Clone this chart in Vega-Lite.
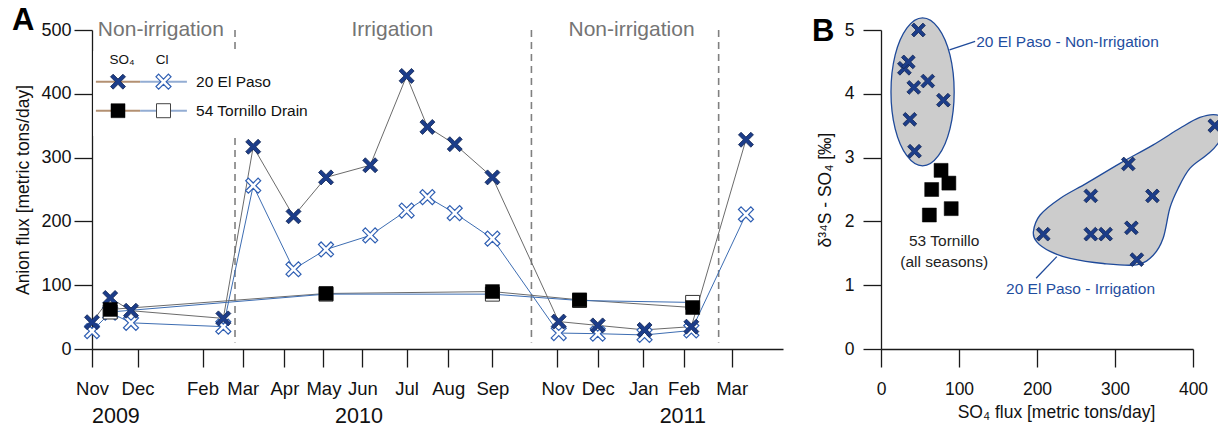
{
  "$schema": "https://vega.github.io/schema/vega-lite/v6.json",
  "background": "white",
  "padding": {"left": 12, "top": 5, "right": 0, "bottom": 0},
  "bounds": "flush",
  "spacing": 98,
  "config": {
    "font": "Liberation Sans",
    "view": {"stroke": null},
    "title": {"font": "Liberation Sans", "color": "#000000"},
    "axis": {
      "grid": false,
      "labelFont": "Liberation Sans",
      "titleFont": "Liberation Sans",
      "titleFontWeight": "normal",
      "domainColor": "#1a1a1a",
      "tickColor": "#1a1a1a",
      "labelColor": "#111111",
      "titleColor": "#111111",
      "domainWidth": 1.3,
      "tickWidth": 1.3,
      "labelOverlap": false,
      "labelFlush": false,
      "labelBound": false
    }
  },
  "datasets": {
    "flux": [
      {"site": "20 El Paso", "ion": "SO4", "date": "2009-11-11", "flux": 42},
      {"site": "20 El Paso", "ion": "SO4", "date": "2009-11-25", "flux": 80},
      {"site": "20 El Paso", "ion": "SO4", "date": "2009-12-11", "flux": 60},
      {"site": "20 El Paso", "ion": "SO4", "date": "2010-02-20", "flux": 48},
      {"site": "20 El Paso", "ion": "SO4", "date": "2010-03-15", "flux": 317},
      {"site": "20 El Paso", "ion": "SO4", "date": "2010-04-15", "flux": 208},
      {"site": "20 El Paso", "ion": "SO4", "date": "2010-05-10", "flux": 269},
      {"site": "20 El Paso", "ion": "SO4", "date": "2010-06-13", "flux": 288},
      {"site": "20 El Paso", "ion": "SO4", "date": "2010-07-11", "flux": 428},
      {"site": "20 El Paso", "ion": "SO4", "date": "2010-07-27", "flux": 348},
      {"site": "20 El Paso", "ion": "SO4", "date": "2010-08-17", "flux": 321},
      {"site": "20 El Paso", "ion": "SO4", "date": "2010-09-15", "flux": 269},
      {"site": "20 El Paso", "ion": "SO4", "date": "2010-11-05", "flux": 43},
      {"site": "20 El Paso", "ion": "SO4", "date": "2010-12-05", "flux": 37},
      {"site": "20 El Paso", "ion": "SO4", "date": "2011-01-10", "flux": 30},
      {"site": "20 El Paso", "ion": "SO4", "date": "2011-02-15", "flux": 35},
      {"site": "20 El Paso", "ion": "SO4", "date": "2011-03-29", "flux": 328},
      {"site": "20 El Paso", "ion": "Cl", "date": "2009-11-11", "flux": 28},
      {"site": "20 El Paso", "ion": "Cl", "date": "2009-11-25", "flux": 57},
      {"site": "20 El Paso", "ion": "Cl", "date": "2009-12-11", "flux": 41},
      {"site": "20 El Paso", "ion": "Cl", "date": "2010-02-20", "flux": 35},
      {"site": "20 El Paso", "ion": "Cl", "date": "2010-03-15", "flux": 256},
      {"site": "20 El Paso", "ion": "Cl", "date": "2010-04-15", "flux": 125},
      {"site": "20 El Paso", "ion": "Cl", "date": "2010-05-10", "flux": 156},
      {"site": "20 El Paso", "ion": "Cl", "date": "2010-06-13", "flux": 178},
      {"site": "20 El Paso", "ion": "Cl", "date": "2010-07-11", "flux": 217},
      {"site": "20 El Paso", "ion": "Cl", "date": "2010-07-27", "flux": 238},
      {"site": "20 El Paso", "ion": "Cl", "date": "2010-08-17", "flux": 213},
      {"site": "20 El Paso", "ion": "Cl", "date": "2010-09-15", "flux": 173},
      {"site": "20 El Paso", "ion": "Cl", "date": "2010-11-05", "flux": 25},
      {"site": "20 El Paso", "ion": "Cl", "date": "2010-12-05", "flux": 24},
      {"site": "20 El Paso", "ion": "Cl", "date": "2011-01-10", "flux": 22},
      {"site": "20 El Paso", "ion": "Cl", "date": "2011-02-15", "flux": 29},
      {"site": "20 El Paso", "ion": "Cl", "date": "2011-03-29", "flux": 211},
      {"site": "54 Tornillo Drain", "ion": "SO4", "date": "2009-11-25", "flux": 62},
      {"site": "54 Tornillo Drain", "ion": "SO4", "date": "2010-05-10", "flux": 87},
      {"site": "54 Tornillo Drain", "ion": "SO4", "date": "2010-09-15", "flux": 90},
      {"site": "54 Tornillo Drain", "ion": "SO4", "date": "2010-11-21", "flux": 77},
      {"site": "54 Tornillo Drain", "ion": "SO4", "date": "2011-02-16", "flux": 65},
      {"site": "54 Tornillo Drain", "ion": "Cl", "date": "2009-11-25", "flux": 58},
      {"site": "54 Tornillo Drain", "ion": "Cl", "date": "2010-05-10", "flux": 86},
      {"site": "54 Tornillo Drain", "ion": "Cl", "date": "2010-09-15", "flux": 86},
      {"site": "54 Tornillo Drain", "ion": "Cl", "date": "2010-11-21", "flux": 76},
      {"site": "54 Tornillo Drain", "ion": "Cl", "date": "2011-02-16", "flux": 73}
    ],
    "seasons": [
      {"season": "Non-irrigation", "mid": "2010-01-03"},
      {"season": "Irrigation", "mid": "2010-06-30"},
      {"season": "Non-irrigation", "mid": "2010-12-31"}
    ],
    "boundaries": [
      {"start": "2010-03-01"},
      {"start": "2010-10-15"},
      {"start": "2011-03-08"}
    ],
    "keyRows": [
      {"site": "20 El Paso", "level": 419},
      {"site": "54 Tornillo Drain", "level": 373.5}
    ],
    "isotopes": [
      {"group": "Non-irrigation", "so4": 30, "d34s": 4.4},
      {"group": "Non-irrigation", "so4": 35, "d34s": 4.5},
      {"group": "Non-irrigation", "so4": 37, "d34s": 3.6},
      {"group": "Non-irrigation", "so4": 42, "d34s": 4.1},
      {"group": "Non-irrigation", "so4": 43, "d34s": 3.1},
      {"group": "Non-irrigation", "so4": 48, "d34s": 5.0},
      {"group": "Non-irrigation", "so4": 60, "d34s": 4.2},
      {"group": "Non-irrigation", "so4": 80, "d34s": 3.9},
      {"group": "Irrigation", "so4": 208, "d34s": 1.8},
      {"group": "Irrigation", "so4": 269, "d34s": 2.4},
      {"group": "Irrigation", "so4": 269, "d34s": 1.8},
      {"group": "Irrigation", "so4": 288, "d34s": 1.8},
      {"group": "Irrigation", "so4": 317, "d34s": 2.9},
      {"group": "Irrigation", "so4": 321, "d34s": 1.9},
      {"group": "Irrigation", "so4": 328, "d34s": 1.4},
      {"group": "Irrigation", "so4": 348, "d34s": 2.4},
      {"group": "Irrigation", "so4": 428, "d34s": 3.5},
      {"group": "Tornillo", "so4": 62, "d34s": 2.1},
      {"group": "Tornillo", "so4": 65, "d34s": 2.5},
      {"group": "Tornillo", "so4": 77, "d34s": 2.8},
      {"group": "Tornillo", "so4": 87, "d34s": 2.6},
      {"group": "Tornillo", "so4": 90, "d34s": 2.2}
    ],
    "hullNonIrrigation": [
      {"k": 0, "so4": 93.8, "d34s": 4.03},
      {"k": 1, "so4": 88.4, "d34s": 4.61},
      {"k": 2, "so4": 73.6, "d34s": 5.03},
      {"k": 3, "so4": 53.3, "d34s": 5.19},
      {"k": 4, "so4": 33.1, "d34s": 5.03},
      {"k": 5, "so4": 18.2, "d34s": 4.61},
      {"k": 6, "so4": 12.8, "d34s": 4.03},
      {"k": 7, "so4": 18.2, "d34s": 3.45},
      {"k": 8, "so4": 33.1, "d34s": 3.03},
      {"k": 9, "so4": 53.3, "d34s": 2.87},
      {"k": 10, "so4": 73.6, "d34s": 3.03},
      {"k": 11, "so4": 88.4, "d34s": 3.45}
    ],
    "hullIrrigation": [
      {"k": 0, "so4": 195.4, "d34s": 1.84},
      {"k": 1, "so4": 204.0, "d34s": 2.10},
      {"k": 2, "so4": 229.6, "d34s": 2.36},
      {"k": 3, "so4": 263.8, "d34s": 2.60},
      {"k": 4, "so4": 306.4, "d34s": 2.91},
      {"k": 5, "so4": 349.0, "d34s": 3.20},
      {"k": 6, "so4": 383.2, "d34s": 3.46},
      {"k": 7, "so4": 408.8, "d34s": 3.63},
      {"k": 8, "so4": 430.2, "d34s": 3.67},
      {"k": 9, "so4": 444.7, "d34s": 3.54},
      {"k": 10, "so4": 431.9, "d34s": 3.22},
      {"k": 11, "so4": 417.4, "d34s": 3.04},
      {"k": 12, "so4": 396.0, "d34s": 2.83},
      {"k": 13, "so4": 381.0, "d34s": 2.52},
      {"k": 14, "so4": 370.4, "d34s": 2.21},
      {"k": 15, "so4": 361.8, "d34s": 1.74},
      {"k": 16, "so4": 349.0, "d34s": 1.47},
      {"k": 17, "so4": 327.8, "d34s": 1.32},
      {"k": 18, "so4": 285.0, "d34s": 1.34},
      {"k": 19, "so4": 242.4, "d34s": 1.42},
      {"k": 20, "so4": 216.8, "d34s": 1.53},
      {"k": 21, "so4": 199.7, "d34s": 1.68}
    ]
  },
  "hconcat": [
    {
      "width": 691,
      "height": 319,
      "title": {"text": "A", "anchor": "start", "frame": "group", "dx": -80, "dy": 42, "offset": 0, "baseline": "alphabetic", "fontSize": 31, "fontWeight": "bold"},
      "resolve": {"axis": {"x": "independent"}},
      "layer": [
        {
          "data": {"name": "boundaries"},
          "mark": {"type": "rule", "color": "#808080", "strokeWidth": 1.6, "strokeDash": [7, 5]},
          "encoding": {
            "x": {"field": "start", "type": "temporal", "axis": null},
            "y": {"datum": 500, "type": "quantitative"},
            "y2": {"datum": 10}
          }
        },
        {
          "data": {"name": "keyRows"},
          "mark": {"type": "rect", "color": "white"},
          "transform": [{"filter": "datum.site === '20 El Paso'"}],
          "encoding": {
            "x": {"datum": {"year": 2009, "month": 11, "date": 12, "utc": true}, "type": "temporal", "axis": null},
            "x2": {"datum": {"year": 2010, "month": 3, "date": 5, "utc": true}},
            "y": {"datum": 334, "type": "quantitative"},
            "y2": {"datum": 467}
          }
        },
        {
          "data": {"name": "seasons"},
          "mark": {"type": "text", "fontSize": 21, "color": "#747474", "baseline": "middle", "align": "center"},
          "encoding": {
            "x": {
              "field": "mid",
              "type": "temporal",
              "axis": {
                "orient": "bottom",
                "values": [
                  {"year": 2009, "month": 11, "date": 29, "utc": true},
                  {"year": 2010, "month": 6, "date": 4, "utc": true},
                  {"year": 2011, "month": 2, "date": 8, "utc": true}
                ],
                "labelExpr": "utcFormat(datum.value, '%Y')",
                "domain": false,
                "ticks": false,
                "tickSize": 0,
                "labelPadding": 56,
                "labelFontSize": 21.5,
                "title": null
              }
            },
            "y": {"datum": 500, "type": "quantitative"},
            "text": {"field": "season"}
          }
        },
        {
          "data": {"name": "flux"},
          "mark": {"type": "line", "strokeWidth": 1},
          "encoding": {
            "x": {
              "field": "date",
              "type": "temporal",
              "scale": {
                "type": "utc",
                "nice": false,
                "domain": [
                  {"year": 2009, "month": 11, "date": 11, "utc": true},
                  {"year": 2011, "month": 4, "date": 26, "hours": 12, "utc": true}
                ]
              },
              "axis": {
                "orient": "bottom",
                "values": [
                  {"year": 2009, "month": 11, "date": 11, "utc": true},
                  {"year": 2009, "month": 12, "date": 16, "utc": true},
                  {"year": 2010, "month": 2, "date": 4, "utc": true},
                  {"year": 2010, "month": 3, "date": 7, "utc": true},
                  {"year": 2010, "month": 4, "date": 8, "utc": true},
                  {"year": 2010, "month": 5, "date": 8, "utc": true},
                  {"year": 2010, "month": 6, "date": 7, "utc": true},
                  {"year": 2010, "month": 7, "date": 11, "utc": true},
                  {"year": 2010, "month": 8, "date": 12, "utc": true},
                  {"year": 2010, "month": 9, "date": 15, "utc": true},
                  {"year": 2010, "month": 11, "date": 4, "utc": true},
                  {"year": 2010, "month": 12, "date": 5, "utc": true},
                  {"year": 2011, "month": 1, "date": 9, "utc": true},
                  {"year": 2011, "month": 2, "date": 9, "utc": true},
                  {"year": 2011, "month": 3, "date": 18, "utc": true}
                ],
                "labelExpr": "utcFormat(datum.value, '%b')",
                "tickSize": 18,
                "labelPadding": 12,
                "labelFontSize": 18.5,
                "title": null
              }
            },
            "y": {
              "field": "flux",
              "type": "quantitative",
              "scale": {"domain": [0, 500], "nice": false},
              "axis": {
                "values": [0, 50, 100, 150, 200, 250, 300, 350, 400, 450, 500],
                "labelExpr": "datum.value % 100 === 0 ? datum.label : ''",
                "tickSize": {"condition": {"test": "datum.value % 100 === 0", "value": 18}, "value": 9},
                "labelPadding": 3,
                "labelFontSize": 18,
                "title": "Anion flux [metric tons/day]",
                "titleFontSize": 17.5,
                "titlePadding": 8
              }
            },
            "color": {
              "field": "ion",
              "type": "nominal",
              "scale": {"domain": ["SO4", "Cl"], "range": ["#6b6b6b", "#3d6db2"]},
              "legend": null
            },
            "detail": {"field": "site"}
          }
        },
        {
          "data": {"name": "flux"},
          "transform": [{"filter": "datum.site === '20 El Paso' && datum.ion === 'Cl'"}],
          "mark": {"type": "point", "shape": "M -0.65 -1 L 0 -0.35 L 0.65 -1 L 1 -0.65 L 0.35 0 L 1 0.65 L 0.65 1 L 0 0.35 L -0.65 1 L -1 0.65 L -0.35 0 L -1 -0.65 Z", "size": 225, "filled": true, "fill": "white", "stroke": "#2f5fb3", "strokeWidth": 1.2, "opacity": 1},
          "encoding": {
            "x": {"field": "date", "type": "temporal", "axis": null},
            "y": {"field": "flux", "type": "quantitative"}
          }
        },
        {
          "data": {"name": "flux"},
          "transform": [{"filter": "datum.site === '20 El Paso' && datum.ion === 'SO4'"}],
          "mark": {"type": "point", "shape": "M -0.65 -1 L 0 -0.35 L 0.65 -1 L 1 -0.65 L 0.35 0 L 1 0.65 L 0.65 1 L 0 0.35 L -0.65 1 L -1 0.65 L -0.35 0 L -1 -0.65 Z", "size": 225, "filled": true, "fill": "#1c3d8a", "stroke": "#102452", "strokeWidth": 0.8, "opacity": 1},
          "encoding": {
            "x": {"field": "date", "type": "temporal", "axis": null},
            "y": {"field": "flux", "type": "quantitative"}
          }
        },
        {
          "data": {"name": "flux"},
          "transform": [{"filter": "datum.site === '54 Tornillo Drain' && datum.ion === 'Cl'"}],
          "mark": {"type": "point", "shape": "square", "size": 196, "filled": true, "fill": "white", "stroke": "#333333", "strokeWidth": 1, "opacity": 1},
          "encoding": {
            "x": {"field": "date", "type": "temporal", "axis": null},
            "y": {"field": "flux", "type": "quantitative"}
          }
        },
        {
          "data": {"name": "flux"},
          "transform": [{"filter": "datum.site === '54 Tornillo Drain' && datum.ion === 'SO4'"}],
          "mark": {"type": "point", "shape": "square", "size": 196, "filled": true, "fill": "#000000", "stroke": "#000000", "strokeWidth": 0.5, "opacity": 1},
          "encoding": {
            "x": {"field": "date", "type": "temporal", "axis": null},
            "y": {"field": "flux", "type": "quantitative"}
          }
        },
        {
          "data": {"name": "keyRows"},
          "mark": {"type": "rule", "color": "#b39072", "strokeWidth": 2},
          "encoding": {
            "x": {"datum": {"year": 2009, "month": 11, "date": 14, "utc": true}, "type": "temporal", "axis": null},
            "x2": {"datum": {"year": 2009, "month": 12, "date": 18, "utc": true}},
            "y": {"field": "level", "type": "quantitative"}
          }
        },
        {
          "data": {"name": "keyRows"},
          "mark": {"type": "rule", "color": "#93add3", "strokeWidth": 2},
          "encoding": {
            "x": {"datum": {"year": 2009, "month": 12, "date": 18, "utc": true}, "type": "temporal", "axis": null},
            "x2": {"datum": {"year": 2010, "month": 1, "date": 23, "utc": true}},
            "y": {"field": "level", "type": "quantitative"}
          }
        },
        {
          "data": {"name": "keyRows"},
          "transform": [{"filter": "datum.site === '20 El Paso'"}],
          "mark": {"type": "point", "shape": "M -0.65 -1 L 0 -0.35 L 0.65 -1 L 1 -0.65 L 0.35 0 L 1 0.65 L 0.65 1 L 0 0.35 L -0.65 1 L -1 0.65 L -0.35 0 L -1 -0.65 Z", "size": 225, "filled": true, "fill": "#1c3d8a", "stroke": "#102452", "strokeWidth": 0.8, "opacity": 1},
          "encoding": {
            "x": {"datum": {"year": 2009, "month": 12, "date": 1, "utc": true}, "type": "temporal", "axis": null},
            "y": {"field": "level", "type": "quantitative"}
          }
        },
        {
          "data": {"name": "keyRows"},
          "transform": [{"filter": "datum.site === '20 El Paso'"}],
          "mark": {"type": "point", "shape": "M -0.65 -1 L 0 -0.35 L 0.65 -1 L 1 -0.65 L 0.35 0 L 1 0.65 L 0.65 1 L 0 0.35 L -0.65 1 L -1 0.65 L -0.35 0 L -1 -0.65 Z", "size": 225, "filled": true, "fill": "white", "stroke": "#2f5fb3", "strokeWidth": 1.2, "opacity": 1},
          "encoding": {
            "x": {"datum": {"year": 2010, "month": 1, "date": 5, "utc": true}, "type": "temporal", "axis": null},
            "y": {"field": "level", "type": "quantitative"}
          }
        },
        {
          "data": {"name": "keyRows"},
          "transform": [{"filter": "datum.site === '54 Tornillo Drain'"}],
          "mark": {"type": "point", "shape": "square", "size": 196, "filled": true, "fill": "#000000", "stroke": "#000000", "strokeWidth": 0.5, "opacity": 1},
          "encoding": {
            "x": {"datum": {"year": 2009, "month": 12, "date": 1, "utc": true}, "type": "temporal", "axis": null},
            "y": {"field": "level", "type": "quantitative"}
          }
        },
        {
          "data": {"name": "keyRows"},
          "transform": [{"filter": "datum.site === '54 Tornillo Drain'"}],
          "mark": {"type": "point", "shape": "square", "size": 196, "filled": true, "fill": "white", "stroke": "#444444", "strokeWidth": 1, "opacity": 1},
          "encoding": {
            "x": {"datum": {"year": 2010, "month": 1, "date": 5, "utc": true}, "type": "temporal", "axis": null},
            "y": {"field": "level", "type": "quantitative"}
          }
        },
        {
          "data": {"name": "keyRows"},
          "mark": {"type": "text", "align": "left", "baseline": "middle", "fontSize": 15.5, "color": "#111111"},
          "encoding": {
            "x": {"datum": {"year": 2010, "month": 1, "date": 30, "utc": true}, "type": "temporal", "axis": null},
            "y": {"field": "level", "type": "quantitative"},
            "text": {"field": "site"}
          }
        },
        {
          "data": {"name": "keyRows"},
          "transform": [{"filter": "datum.site === '20 El Paso'"}],
          "mark": {"type": "text", "align": "center", "baseline": "middle", "fontSize": 13.5, "color": "#111111", "text": "SO₄"},
          "encoding": {
            "x": {"datum": {"year": 2009, "month": 12, "date": 4, "utc": true}, "type": "temporal", "axis": null},
            "y": {"datum": 453, "type": "quantitative"}
          }
        },
        {
          "data": {"name": "keyRows"},
          "transform": [{"filter": "datum.site === '20 El Paso'"}],
          "mark": {"type": "text", "align": "center", "baseline": "middle", "fontSize": 13.5, "color": "#111111", "text": "Cl"},
          "encoding": {
            "x": {"datum": {"year": 2010, "month": 1, "date": 4, "utc": true}, "type": "temporal", "axis": null},
            "y": {"datum": 453, "type": "quantitative"}
          }
        }
      ]
    },
    {
      "width": 312,
      "height": 319,
      "title": {"text": "B", "anchor": "start", "frame": "group", "dx": -69, "dy": 57, "offset": 0, "baseline": "alphabetic", "fontSize": 31, "fontWeight": "bold"},
      "layer": [
        {
          "data": {"name": "hullNonIrrigation"},
          "mark": {"type": "line", "interpolate": "cardinal-closed", "fill": "#cccccc", "stroke": "#1f4a9a", "strokeWidth": 1.3},
          "encoding": {
            "x": {
              "field": "so4",
              "type": "quantitative",
              "scale": {"domain": [0, 400], "nice": false},
              "axis": {
                "values": [0, 50, 100, 150, 200, 250, 300, 350, 400],
                "labelExpr": "datum.value % 100 === 0 ? datum.label : ''",
                "tickSize": {"condition": {"test": "datum.value % 100 === 0", "value": 18}, "value": 9},
                "labelPadding": 13,
                "labelFontSize": 17.5,
                "title": "SO₄ flux [metric tons/day]",
                "titleFontSize": 17.5,
                "titlePadding": 6,
                "titleX": 175
              }
            },
            "y": {
              "field": "d34s",
              "type": "quantitative",
              "scale": {"domain": [0, 5], "nice": false},
              "axis": {
                "values": [0, 0.5, 1, 1.5, 2, 2.5, 3, 3.5, 4, 4.5, 5],
                "format": ".0f",
                "labelExpr": "datum.value % 1 === 0 ? datum.label : ''",
                "tickSize": {"condition": {"test": "datum.value % 1 === 0", "value": 18}, "value": 9},
                "labelPadding": 9,
                "labelFontSize": 17.5,
                "title": "δ³⁴S - SO₄ [‰]",
                "titleFontSize": 17.5,
                "titlePadding": 10
              }
            },
            "order": {"field": "k", "type": "quantitative"}
          }
        },
        {
          "data": {"name": "hullIrrigation"},
          "mark": {"type": "line", "interpolate": "cardinal-closed", "fill": "#cccccc", "stroke": "#1f4a9a", "strokeWidth": 1.3},
          "encoding": {
            "x": {"field": "so4", "type": "quantitative"},
            "y": {"field": "d34s", "type": "quantitative"},
            "order": {"field": "k", "type": "quantitative"}
          }
        },
        {
          "data": {"name": "hullNonIrrigation"},
          "transform": [{"filter": "datum.k === 0"}],
          "mark": {"type": "rule", "color": "#1f4a9a", "strokeWidth": 1.3},
          "encoding": {
            "x": {"datum": 87.8, "type": "quantitative"},
            "y": {"datum": 4.69, "type": "quantitative"},
            "x2": {"datum": 120.7},
            "y2": {"datum": 4.82}
          }
        },
        {
          "data": {"name": "hullIrrigation"},
          "transform": [{"filter": "datum.k === 0"}],
          "mark": {"type": "rule", "color": "#1f4a9a", "strokeWidth": 1.3},
          "encoding": {
            "x": {"datum": 198.9, "type": "quantitative"},
            "y": {"datum": 1.108, "type": "quantitative"},
            "x2": {"datum": 225.4},
            "y2": {"datum": 1.448}
          }
        },
        {
          "data": {"name": "isotopes"},
          "transform": [{"filter": "datum.group !== 'Tornillo'"}],
          "mark": {"type": "point", "shape": "M -0.65 -1 L 0 -0.35 L 0.65 -1 L 1 -0.65 L 0.35 0 L 1 0.65 L 0.65 1 L 0 0.35 L -0.65 1 L -1 0.65 L -0.35 0 L -1 -0.65 Z", "size": 190, "filled": true, "fill": "#1c3d8a", "stroke": "#102452", "strokeWidth": 0.8, "opacity": 1},
          "encoding": {
            "x": {"field": "so4", "type": "quantitative"},
            "y": {"field": "d34s", "type": "quantitative"}
          }
        },
        {
          "data": {"name": "isotopes"},
          "transform": [{"filter": "datum.group === 'Tornillo'"}],
          "mark": {"type": "point", "shape": "square", "size": 196, "filled": true, "fill": "#000000", "stroke": "#000000", "strokeWidth": 0.5, "opacity": 1},
          "encoding": {
            "x": {"field": "so4", "type": "quantitative"},
            "y": {"field": "d34s", "type": "quantitative"}
          }
        },
        {
          "data": {"name": "hullNonIrrigation"},
          "transform": [{"filter": "datum.k === 0"}],
          "mark": {"type": "text", "align": "left", "baseline": "middle", "fontSize": 15.5, "color": "#1f4ea0", "text": "20 El Paso - Non-Irrigation"},
          "encoding": {
            "x": {"datum": 122, "type": "quantitative"},
            "y": {"datum": 4.81, "type": "quantitative"}
          }
        },
        {
          "data": {"name": "hullIrrigation"},
          "transform": [{"filter": "datum.k === 0"}],
          "mark": {"type": "text", "align": "center", "baseline": "middle", "fontSize": 15.5, "color": "#1f4ea0", "text": "20 El Paso - Irrigation"},
          "encoding": {
            "x": {"datum": 255.8, "type": "quantitative"},
            "y": {"datum": 0.936, "type": "quantitative"}
          }
        },
        {
          "data": {"name": "hullIrrigation"},
          "transform": [{"filter": "datum.k === 0"}],
          "mark": {"type": "text", "align": "center", "baseline": "middle", "fontSize": 15.5, "color": "#222222", "text": "53 Tornillo"},
          "encoding": {
            "x": {"datum": 81, "type": "quantitative"},
            "y": {"datum": 1.69, "type": "quantitative"}
          }
        },
        {
          "data": {"name": "hullIrrigation"},
          "transform": [{"filter": "datum.k === 0"}],
          "mark": {"type": "text", "align": "center", "baseline": "middle", "fontSize": 15.5, "color": "#222222", "text": "(all seasons)"},
          "encoding": {
            "x": {"datum": 81, "type": "quantitative"},
            "y": {"datum": 1.37, "type": "quantitative"}
          }
        }
      ]
    }
  ]
}
